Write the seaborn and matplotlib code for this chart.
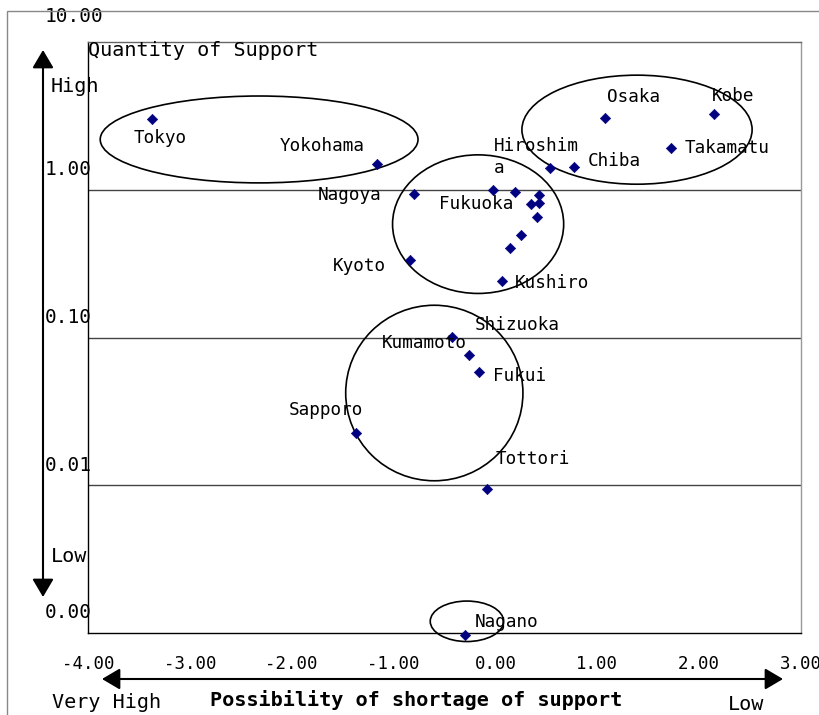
import numpy as np
import pandas as pd
import matplotlib
matplotlib.use("Agg")
import matplotlib.pyplot as plt
from matplotlib.patches import Ellipse, Rectangle
import seaborn as sns

# city data: x = possibility of shortage, y = quantity of support
cities = ["Tokyo", "Yokohama", "Osaka", "Kobe", "Takamatu", "Hiroshima",
          "Chiba", "Nagoya", "", "", "", "Fukuoka", "", "", "", "",
          "Kushiro", "Kyoto", "Shizuoka", "Kumamoto", "Fukui", "Sapporo",
          "Tottori", "Nagano"]
shortage = [-3.37, -1.16, 1.08, 2.15, 1.72, 0.54,
            0.77, -0.80, -0.02, 0.19, 0.43, 0.35, 0.43, 0.41, 0.25, 0.14,
            0.06, -0.84, -0.43, -0.26, -0.16, -1.37,
            -0.08, -0.30]
support = [3.00, 1.50, 3.08, 3.24, 1.93, 1.41,
           1.43, 0.943, 0.992, 0.962, 0.922, 0.798, 0.814, 0.655, 0.494, 0.402,
           0.240, 0.337, 0.101, 0.0759, 0.0585, 0.0226,
           0.00937, 0.00097]

x_ticks = [-4, -3, -2, -1, 0, 1, 2, 3]
x_tick_labels = ["-4.00", "-3.00", "-2.00", "-1.00", "0.00", "1.00", "2.00", "3.00"]
y_ticks = [0.001, 0.01, 0.1, 1, 10]
y_tick_labels = ["0.00", "0.01", "0.10", "1.00", "10.00"]

# group ellipses: centre x, centre y, half width (x units), half height (decades)
groups_cx = [-2.32, 1.39, -0.17, -0.60, -0.28]
groups_cy = [2.19, 2.55, 0.585, 0.0421, 0.0012]
groups_hw = [1.56, 1.13, 0.84, 0.87, 0.36]
groups_hh = [0.294, 0.369, 0.469, 0.594, 0.137]

# label placement (offset pixels, alignment)
label_pos = {
    "Tokyo": (-19, -19, "left"), "Yokohama": (-13, 18, "right"),
    "Osaka": (2, 21, "left"), "Kobe": (-3, 18, "left"),
    "Takamatu": (14, 0, "left"), "Hiroshima": (-57, 11, "left"),
    "Chiba": (14, 6, "left"), "Nagoya": (-32, -1, "right"),
    "Fukuoka": (-18, 0, "right"), "Kushiro": (13, -2, "left"),
    "Kyoto": (-24, -6, "right"), "Shizuoka": (23, 12, "left"),
    "Kumamoto": (-2, 12, "right"), "Fukui": (14, -4, "left"),
    "Sapporo": (7, 23, "right"), "Tottori": (8, 30, "left"),
    "Nagano": (10, 13, "left"),
}

sns.set_style("white")
plt.rcParams['font.family'] = ['DejaVu Sans Mono', 'DejaVu Sans']
plt.rcParams['text.color'] = 'black'
plt.rcParams['xtick.color'] = 'black'
plt.rcParams['ytick.color'] = 'black'

df = pd.DataFrame({"city": cities, "shortage": shortage, "support": support})

fig = plt.figure(figsize=(8.19, 7.15), dpi=100)
ax = fig.add_axes([88 / 819, 82 / 715, 713 / 819, 591 / 715])

sns.scatterplot(data=df, x="shortage", y="support", marker="D", color="#000080",
                edgecolor="#000080", s=28, ax=ax, clip_on=False, zorder=3)

ax.set_yscale("log")
ax.set_xlim(-4, 3)
ax.set_ylim(0.001, 10)
ax.set_xlabel("")
ax.set_ylabel("")

ax.set_xticks(x_ticks)
ax.set_xticklabels(x_tick_labels, fontsize=12.5)
ax.tick_params(axis="x", direction="inout", length=6, color="#555",
               labelcolor="black", pad=13)
ax.set_yticks(y_ticks)
ax.set_yticklabels([])
ax.minorticks_off()
ax.tick_params(axis="y", direction="inout", length=5, color="#555")

for val in [1, 0.1, 0.01]:
    ax.axhline(val, color="#444", lw=1, zorder=1)

ax.spines["left"].set_color("black")
ax.spines["bottom"].set_color("black")
ax.spines["top"].set_color("#666")
ax.spines["right"].set_color("#999")
for sp in ax.spines.values():
    sp.set_linewidth(1)

# y tick labels drawn above the grid lines like the original
for val, lab in zip(y_ticks, y_tick_labels):
    dy = 26 if val == 10 else 20
    ax.annotate(lab, xy=(0, val), xycoords=("axes fraction", "data"),
                xytext=(-43, dy), textcoords="offset pixels",
                ha="left", va="center", fontsize=14, annotation_clip=False)

# group ellipses
for cx, cy, hw, hh in zip(groups_cx, groups_cy, groups_hw, groups_hh):
    ex = (cx + 4) / 7
    ey = (np.log10(cy) + 3) / 4
    ax.add_patch(Ellipse((ex, ey), 2 * hw / 7, 2 * hh / 4, transform=ax.transAxes,
                         fill=False, edgecolor="black", lw=1.2, zorder=2,
                         clip_on=False))

# city labels
for name, x, y in zip(cities, shortage, support):
    if name not in label_pos:
        continue
    dx, dy, ha = label_pos[name]
    text = "Hiroshim\na" if name == "Hiroshima" else name
    ax.annotate(text, xy=(x, y), xytext=(dx, dy), textcoords="offset pixels",
                ha=ha, va="center", fontsize=12.7, linespacing=1.3, zorder=4,
                annotation_clip=False)

# outer frame
fig.add_artist(Rectangle((7 / 819, -0.05), 1.0, 704 / 715 + 0.05,
                         transform=fig.transFigure, fill=False,
                         edgecolor="#888", lw=1))

# axis arrows
arrow = dict(arrowstyle="<|-|>,head_length=1.1,head_width=0.65", color="black",
             lw=1.5, shrinkA=0, shrinkB=0, mutation_scale=10)
ax.annotate("", xy=(43, 665), xytext=(43, 118), xycoords="figure pixels",
            textcoords="figure pixels", arrowprops=arrow)
ax.annotate("", xy=(102, 36), xytext=(783, 36), xycoords="figure pixels",
            textcoords="figure pixels", arrowprops=arrow)

fig.text(88 / 819, 665 / 715, "Quantity of Support", fontsize=14.5,
         ha="left", va="center")
fig.text(51 / 819, 629 / 715, "High", fontsize=14.5, ha="left", va="center")
fig.text(51 / 819, 158 / 715, "Low", fontsize=14.5, ha="left", va="center")
fig.text(52 / 819, 12 / 715, "Very High", fontsize=14.5, ha="left", va="center")
fig.text(210 / 819, 15 / 715, "Possibility of shortage of support",
         fontsize=14.5, fontweight="bold", ha="left", va="center")
fig.text(728 / 819, 11 / 715, "Low", fontsize=14.5, ha="left", va="center")

fig.savefig("out.png", dpi=100)
